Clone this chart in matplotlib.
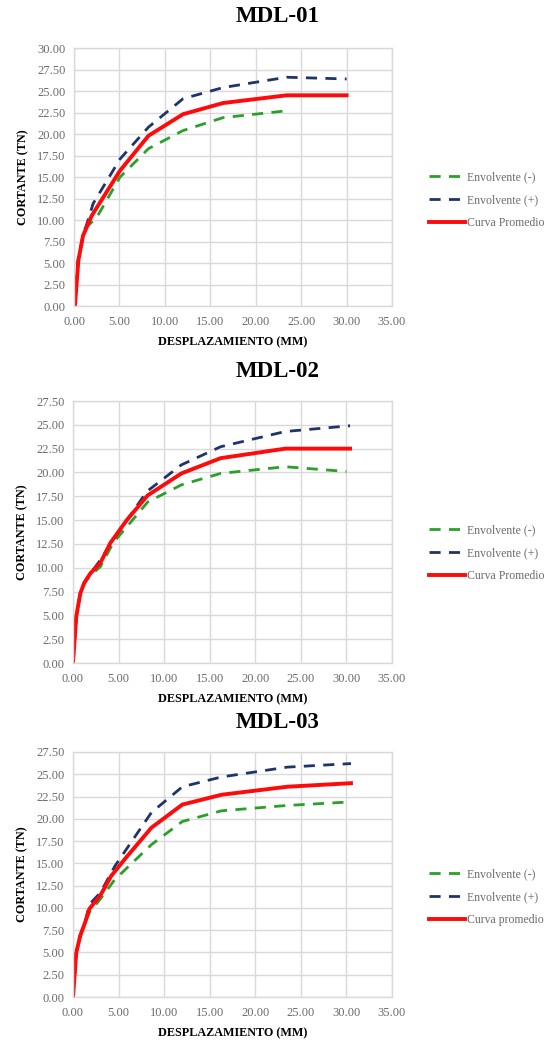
import matplotlib
matplotlib.use("Agg")
import matplotlib.pyplot as plt
from matplotlib.ticker import MultipleLocator, FormatStrFormatter

plt.rcParams['font.family'] = ['Liberation Serif', 'DejaVu Serif']

titles = ["MDL-01", "MDL-02", "MDL-03"]
ymax = [30.0, 27.5, 27.5]
legend_labels = [
    ["Envolvente (-)", "Envolvente (+)", "Curva Promedio"],
    ["Envolvente (-)", "Envolvente (+)", "Curva Promedio"],
    ["Envolvente (-)", "Envolvente (+)", "Curva promedio"],
]

# MDL-01
neg1_x = [0.0, 0.45, 1.0, 1.2, 2.5, 5.07, 8.2, 12.0, 16.4, 23.4]
neg1_y = [0.0, 5.3, 8.2, 9.0, 10.3, 15.0, 18.3, 20.4, 21.9, 22.7]
pos1_x = [0.0, 0.45, 1.0, 1.7, 2.1, 5.07, 8.2, 12.0, 16.4, 23.4, 30.0]
pos1_y = [0.0, 5.3, 8.2, 10.5, 11.9, 17.1, 20.8, 24.1, 25.4, 26.6, 26.4]
avg1_x = [0.1, 0.48, 1.0, 1.95, 5.07, 8.2, 12.0, 16.4, 23.4, 30.0]
avg1_y = [0.0, 5.3, 8.2, 10.5, 15.75, 19.8, 22.3, 23.6, 24.5, 24.5]

# MDL-02
neg2_x = [0.0, 0.36, 0.8, 1.23, 1.9, 3.0, 4.4, 8.2, 11.9, 16.2, 23.3, 30.0]
neg2_y = [0.0, 4.9, 7.3, 8.4, 9.2, 10.1, 12.6, 16.9, 18.7, 19.9, 20.6, 20.1]
pos2_x = [0.0, 0.36, 0.8, 1.23, 1.9, 3.0, 4.4, 8.1, 11.9, 16.2, 23.3, 30.4]
pos2_y = [0.0, 4.9, 7.3, 8.4, 9.4, 10.8, 12.9, 18.0, 20.8, 22.7, 24.3, 24.9]
avg2_x = [0.0, 0.36, 0.8, 1.23, 1.9, 3.0, 4.1, 5.9, 8.2, 11.9, 16.2, 23.3, 30.4]
avg2_y = [0.0, 4.9, 7.3, 8.4, 9.4, 10.5, 12.6, 15.0, 17.6, 19.9, 21.5, 22.5, 22.5]

# MDL-03
neg3_x = [0.0, 0.36, 0.8, 1.34, 1.8, 3.0, 4.6, 8.6, 12.0, 16.3, 23.5, 30.5]
neg3_y = [0.0, 5.0, 6.9, 8.4, 9.5, 11.0, 13.2, 17.1, 19.7, 20.9, 21.5, 21.9]
pos3_x = [0.0, 0.36, 0.8, 1.34, 1.8, 3.0, 4.6, 8.6, 12.0, 16.3, 23.5, 30.5]
pos3_y = [0.0, 5.0, 6.9, 8.4, 10.4, 11.7, 14.7, 20.7, 23.6, 24.7, 25.8, 26.2]
avg3_x = [0.0, 0.36, 0.8, 1.34, 1.8, 3.0, 4.2, 5.7, 8.6, 12.0, 16.3, 23.5, 30.5]
avg3_y = [0.0, 5.0, 6.9, 8.4, 9.9, 11.4, 13.6, 15.5, 19.0, 21.6, 22.7, 23.6, 24.0]

series = [
    (neg1_x, neg1_y, pos1_x, pos1_y, avg1_x, avg1_y),
    (neg2_x, neg2_y, pos2_x, pos2_y, avg2_x, avg2_y),
    (neg3_x, neg3_y, pos3_x, pos3_y, avg3_x, avg3_y),
]

W, H = 550, 1040
fig = plt.figure(figsize=(5.5, 10.4), dpi=100)

# axes pixel boxes: (left, top, right, bottom)
boxes = [(74, 48, 392, 306), (73, 401, 392, 663), (73, 752, 392, 997)]
title_y = [17, 371, 722]
legend_y = [200, 553, 897]

GREEN = "#2aa02a"
BLUE = "#1f3468"
RED = "#ff0a0a"
GRID = "#d9d9d9"
TICK = "#6b6b6b"
DASH = (0, (4.0, 3.0))

for i, (l, t, r, b) in enumerate(boxes):
    ax = fig.add_axes([l / W, 1 - b / H, (r - l) / W, (b - t) / H])
    nx, ny, px, py, axx, ayy = series[i]
    h1, = ax.plot(nx, ny, color=GREEN, lw=2.0, ls=DASH)
    h2, = ax.plot(px, py, color=BLUE, lw=2.0, ls=DASH)
    h3, = ax.plot(axx, ayy, color=RED, lw=2.8)
    ax.set_xlim(0, 35)
    ax.set_ylim(0, ymax[i])
    ax.xaxis.set_major_locator(MultipleLocator(5))
    ax.yaxis.set_major_locator(MultipleLocator(2.5))
    ax.xaxis.set_major_formatter(FormatStrFormatter('%.2f'))
    ax.yaxis.set_major_formatter(FormatStrFormatter('%.2f'))
    ax.grid(True, color=GRID, lw=1.0)
    ax.set_axisbelow(True)
    for s in ax.spines.values():
        s.set_color(GRID)
        s.set_linewidth(1.0)
    ax.tick_params(axis='x', length=0, labelsize=9, labelcolor=TICK, pad=7)
    ax.tick_params(axis='y', length=0, labelsize=9, labelcolor=TICK, pad=6)
    ax.set_xlabel("DESPLAZAMIENTO (MM)", fontsize=8.7, fontweight='bold', labelpad=6)
    ax.set_ylabel("CORTANTE (TN)", fontsize=8.7, fontweight='bold', labelpad=6)
    fig.text(278 / W, 1 - title_y[i] / H, titles[i], fontsize=16.5, fontweight='bold',
             ha='center', va='center')
    fig.legend([h1, h2, h3], legend_labels[i], loc='center left',
               bbox_to_anchor=(418 / W, 1 - legend_y[i] / H), frameon=False,
               fontsize=8.5, labelcolor=TICK, handlelength=3.1, handletextpad=0.15,
               labelspacing=0.92)

fig.savefig("out.png", dpi=100)
